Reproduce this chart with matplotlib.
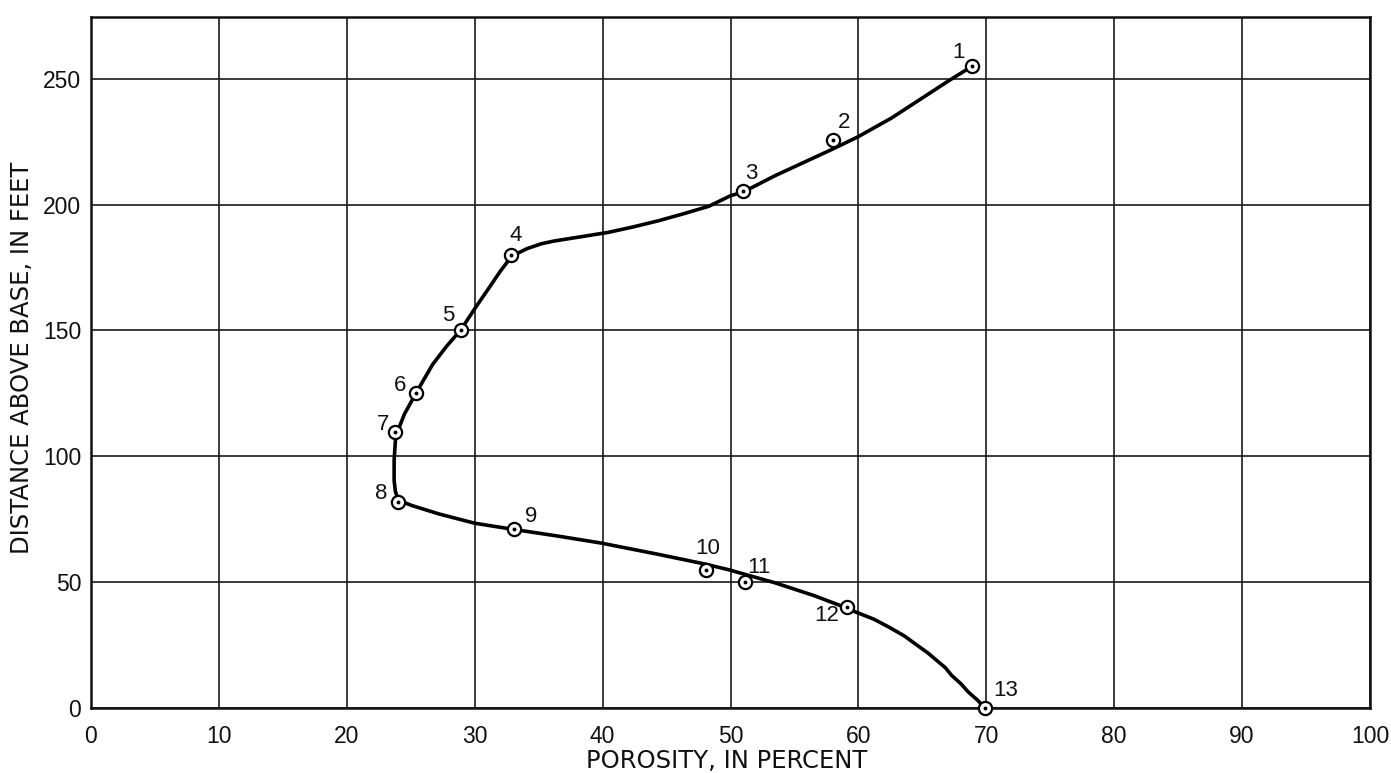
import matplotlib
matplotlib.use("Agg")
import matplotlib.pyplot as plt

plt.rcParams['font.family'] = ['Liberation Sans', 'DejaVu Sans']

# Sample points (porosity %, distance above base ft)
sample_ids = ["1", "2", "3", "4", "5", "6", "7", "8", "9", "10", "11", "12", "13"]
porosity = [68.9, 58.0, 51.0, 32.8, 28.9, 25.4, 23.8, 24.0, 33.1, 48.1, 51.1, 59.1, 69.9]
distance = [255.0, 225.5, 205.5, 180.0, 150.0, 125.0, 109.5, 82.0, 71.0, 55.0, 50.0, 40.0, 0.0]

# Hand-drawn smooth curve
curve_x = [68.5, 67.1, 65.2, 62.6, 60.0, 58.1, 56.1, 53.5, 51.0, 50.0, 48.3, 46.3, 44.4,
           42.3, 40.4, 37.8, 36.2, 35.2, 34.1, 32.9, 32.0, 31.2, 30.0, 28.9, 27.8, 26.7,
           25.4, 24.5, 24.1, 23.8, 23.7, 23.7, 23.8, 24.0, 24.5, 25.1, 27.2, 30.0, 33.1,
           36.5, 39.8, 44.2, 47.9, 49.8, 53.5, 56.5, 58.9, 59.8, 61.2, 62.4, 63.6, 64.6,
           65.4, 66.1, 66.8, 67.3, 68.0, 68.6, 69.3, 69.9]
curve_y = [253.7, 249.3, 243.0, 234.4, 227.0, 222.3, 217.6, 211.5, 205.0, 203.5, 199.3, 196.3, 193.6,
           191.0, 188.9, 186.8, 185.5, 184.4, 182.5, 179.5, 173.5, 167.5, 158.6, 150.1, 143.7, 136.4,
           125.0, 116.7, 111.5, 106.2, 98.3, 90.4, 86.0, 83.0, 81.6, 80.4, 77.1, 73.4, 70.9,
           68.3, 65.6, 61.2, 57.3, 55.0, 49.7, 44.7, 40.1, 38.1, 35.3, 32.1, 28.6, 24.9,
           22.0, 19.0, 16.0, 12.9, 9.7, 6.3, 3.2, 0.0]

# Label offsets (pixels) relative to each point
label_dx = [-14, 11, 8, 5, -12, -16, -12, -17, 17, 1, 14, -20, 21]
label_dy = [14, 18, 17, 19, 15, 8, 8, 8, 13, 21, 15, -8, 17]

x_ticks = [0, 10, 20, 30, 40, 50, 60, 70, 80, 90, 100]
y_ticks = [0, 50, 100, 150, 200, 250]

fig = plt.figure(figsize=(13.91, 7.73), dpi=100)
ax = fig.add_axes([91 / 1391, 1 - 708 / 773, (1370 - 91) / 1391, (708 - 17) / 773])

ax.set_xlim(0, 100)
ax.set_ylim(0, 274.5)
ax.set_xticks(x_ticks)
ax.set_yticks(y_ticks)
ax.tick_params(axis='both', length=0, labelsize=16.5, colors='#111111')
ax.tick_params(axis='x', pad=12)
ax.tick_params(axis='y', pad=7)
ax.grid(True, color='#1a1a1a', linewidth=1.2)
for s in ax.spines.values():
    s.set_linewidth(1.8)
    s.set_color('#111111')

ax.plot(curve_x, curve_y, color='black', linewidth=2.6, zorder=3, clip_on=False,
        solid_capstyle='round', solid_joinstyle='round')
ax.plot(porosity, distance, linestyle='none', marker='o', markersize=9.5,
        markerfacecolor='white', markeredgecolor='black', markeredgewidth=1.6,
        zorder=4, clip_on=False)
ax.plot(porosity, distance, linestyle='none', marker='o', markersize=1.8,
        color='black', zorder=5, clip_on=False)

for sid, px, py, dx, dy in zip(sample_ids, porosity, distance, label_dx, label_dy):
    ax.annotate(sid, (px, py), xytext=(dx, dy), textcoords='offset pixels',
                ha='center', va='center', fontsize=16, color='#111111', zorder=6)

fig.text(727 / 1391, 1 - 761 / 773, 'POROSITY, IN PERCENT', fontsize=17.5,
         family=['DejaVu Sans'], color='#111111', ha='center', va='center')
fig.text(22 / 1391, 1 - 358 / 773, 'DISTANCE ABOVE BASE, IN FEET', fontsize=17.5,
         family=['DejaVu Sans'], color='#111111', ha='center', va='center', rotation=90)

fig.savefig('out.png', dpi=100, facecolor='white')
